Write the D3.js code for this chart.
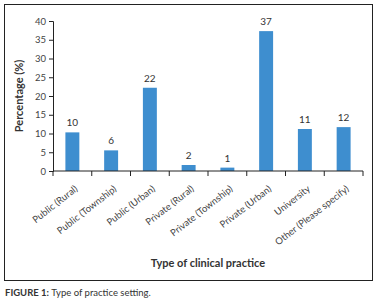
<!DOCTYPE html>
<html>
<head>
<meta charset="utf-8">
<script src="https://cdn.jsdelivr.net/npm/d3@7"></script>
<style>
  body { margin: 0; background: #fff; }
  text { font-family: Lato, "Open Sans", sans-serif; }
</style>
</head>
<body>
<div id="chart_place"></div>
<script>
// data
const categories = [
  "Public (Rural)",
  "Public (Township)",
  "Public (Urban)",
  "Private (Rural)",
  "Private (Township)",
  "Private (Urban)",
  "University",
  "Other (Please specify)",
];
const percentages = [10.3, 5.5, 22.2, 1.6, 0.9, 37.3, 11.2, 11.7];
const valueLabels = ["10", "6", "22", "2", "1", "37", "11", "12"];
const yTicks = [0, 5, 10, 15, 20, 25, 30, 35, 40];

let dimensions = {
  width: 382,
  height: 307,
  margin: {
    top: 21,
    right: 19,
    bottom: 136,
    left: 53,
  },
};
dimensions.boundedWidth =
  dimensions.width - dimensions.margin.left - dimensions.margin.right;
dimensions.boundedHeight =
  dimensions.height - dimensions.margin.top - dimensions.margin.bottom;

const svg = d3
  .select("#chart_place")
  .append("svg")
  .attr("width", dimensions.width)
  .attr("height", dimensions.height);

// outer frame
svg
  .append("rect")
  .attr("x", 4.5)
  .attr("y", 4.5)
  .attr("width", 368)
  .attr("height", 276)
  .attr("fill", "none")
  .attr("stroke", "#222")
  .attr("stroke-width", 1);

const bounds = svg
  .append("g")
  .attr(
    "transform",
    `translate(${dimensions.margin.left}, ${dimensions.margin.top})`
  );

const xScale = d3
  .scaleBand()
  .domain(categories)
  .range([0, dimensions.boundedWidth])
  .paddingInner(0.64)
  .paddingOuter(0.32);

const yScale = d3
  .scaleLinear()
  .domain([0, 40])
  .range([dimensions.boundedHeight, 0]);

// bars
bounds
  .selectAll("rect.bar")
  .data(percentages)
  .enter()
  .append("rect")
  .attr("class", "bar")
  .attr("x", (d, i) => xScale(categories[i]))
  .attr("y", (d) => yScale(d))
  .attr("width", xScale.bandwidth())
  .attr("height", (d) => yScale(0) - yScale(d))
  .attr("fill", "#3e8ecf");

// value labels
bounds
  .selectAll("text.val")
  .data(percentages)
  .enter()
  .append("text")
  .attr("class", "val")
  .attr("x", (d, i) => xScale(categories[i]) + xScale.bandwidth() / 2)
  .attr("y", (d) => yScale(d) - 6)
  .attr("text-anchor", "middle")
  .style("font-size", "10px")
  .style("fill", "#333")
  .text((d, i) => valueLabels[i]);

// y axis
const yAxis = bounds
  .append("g")
  .call(d3.axisLeft(yScale).tickValues(yTicks).tickSize(4).tickPadding(3));
yAxis.select(".domain").attr("stroke", "#222");
yAxis.selectAll(".tick line").attr("stroke", "#222");
yAxis
  .selectAll(".tick text")
  .style("font-size", "9.5px")
  .style("fill", "#444")
  .style("font-family", "Lato, sans-serif");

// x axis: line plus ticks at band boundaries
const xAxis = bounds
  .append("g")
  .attr("transform", `translate(0, ${dimensions.boundedHeight})`);
xAxis
  .append("line")
  .attr("x1", 0)
  .attr("x2", dimensions.boundedWidth)
  .attr("stroke", "#222");
const step = xScale.step();
xAxis
  .selectAll("line.tick")
  .data(d3.range(categories.length + 1))
  .enter()
  .append("line")
  .attr("class", "tick")
  .attr("x1", (i) => i * step)
  .attr("x2", (i) => i * step)
  .attr("y1", 0)
  .attr("y2", 5)
  .attr("stroke", "#222");
xAxis
  .selectAll("text.cat")
  .data(categories)
  .enter()
  .append("text")
  .attr("class", "cat")
  .attr(
    "transform",
    (d) =>
      `translate(${xScale(d) + xScale.bandwidth() / 2 + 6}, 19) rotate(-38)`
  )
  .attr("text-anchor", "end")
  .style("font-size", "9.5px")
  .style("fill", "#444")
  .text((d) => d);

// axis titles
bounds
  .append("text")
  .attr(
    "transform",
    `translate(-30, ${dimensions.boundedHeight / 2}) rotate(-90)`
  )
  .attr("text-anchor", "middle")
  .style("font-size", "11px")
  .style("font-weight", "bold")
  .style("fill", "#333")
  .text("Percentage (%)");

bounds
  .append("text")
  .attr("x", dimensions.boundedWidth / 2)
  .attr("y", dimensions.boundedHeight + 96)
  .attr("text-anchor", "middle")
  .style("font-size", "11px")
  .style("font-weight", "bold")
  .style("fill", "#333")
  .text("Type of clinical practice");

// caption
const caption = svg
  .append("text")
  .attr("x", 5)
  .attr("y", 296)
  .style("font-size", "9.5px")
  .style("fill", "#333");
caption.append("tspan").style("font-weight", "bold").text("FIGURE 1: ");
caption.append("tspan").text("Type of practice setting.");
</script>
</body>
</html>
